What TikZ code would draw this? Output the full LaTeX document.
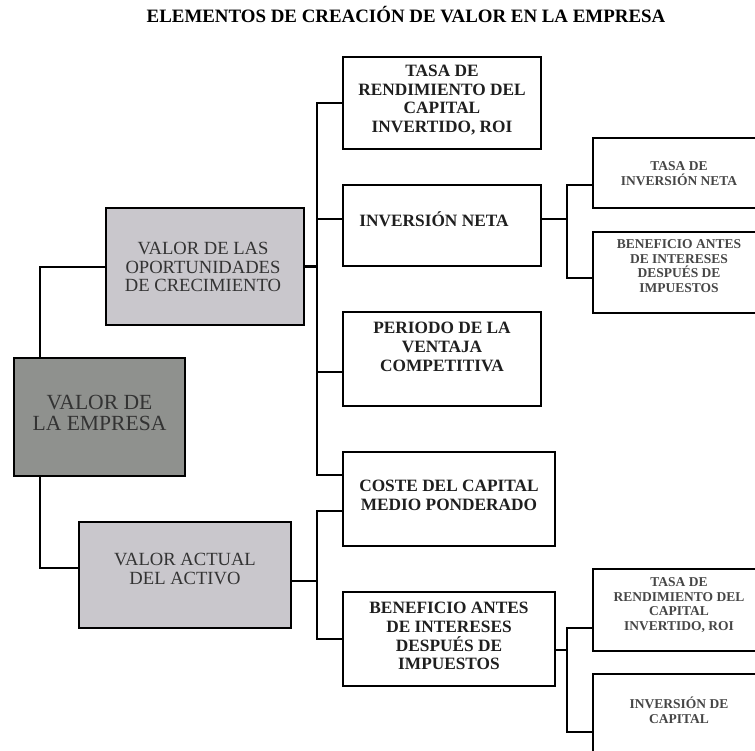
\documentclass[tikz,border=0pt]{standalone}
\usepackage{fontspec}
\setmainfont{Liberation Serif}
\usetikzlibrary{calc}
\definecolor{lightbox}{HTML}{C9C7CC}
\definecolor{darkbox}{HTML}{8F918E}
\definecolor{graytext}{HTML}{333333}
\definecolor{sidegray}{HTML}{464646}
\tikzset{
  box/.style={draw=black, line width=2.8pt, rectangle, inner sep=0pt, fill=white},
  conn/.style={draw=black, line width=2.4pt},
  thinconn/.style={draw=black, line width=2pt},
  midtext/.style={align=center, text=black!88, font=\bfseries\fontsize{17.3}{18.7}\selectfont},
  sidetext/.style={align=center, text=sidegray, font=\bfseries\fontsize{13.5}{14.8}\selectfont},
  graytxt/.style={align=center, text=graytext, font=\fontsize{18.6}{18.4}\selectfont},
}
\begin{document}
\begin{tikzpicture}[x=1pt, y=-1pt]
\useasboundingbox (0,0) rectangle (755,750);
\fill[white] (0,0) rectangle (755,750);
\clip (0,0) rectangle (755,750);

% title
\node[font=\bfseries\fontsize{18.9}{20}\selectfont] (title) at (406,15) {ELEMENTOS DE CREACIÓN DE VALOR EN LA EMPRESA};

% level 0 and level 1 boxes
\node[box, fill=darkbox, minimum width=171pt, minimum height=118pt] (emp) at (99.5,417) {};
\node[align=center, text=black!80, font=\fontsize{21.6}{21.8}\selectfont] (empT) at (99.5,413) {VALOR DE\\LA EMPRESA};

\node[box, fill=lightbox, minimum width=198pt, minimum height=117pt] (op) at (205,266.5) {};
\node[graytxt] (opT) at (203,267) {VALOR DE LAS\\OPORTUNIDADES\\DE CRECIMIENTO};

\node[box, fill=lightbox, minimum width=212pt, minimum height=106pt] (act) at (185,575) {};
\node[graytxt] (actT) at (185,569) {VALOR ACTUAL\\DEL ACTIVO};

% level 2 boxes
\node[box, minimum width=198pt, minimum height=92pt] (roi) at (442,103) {};
\node[midtext] (roiT) at (442,100) {TASA DE\\RENDIMIENTO DEL\\CAPITAL\\INVERTIDO, ROI};

\node[box, minimum width=198pt, minimum height=81pt] (inv) at (442,225.5) {};
\node[midtext] (invT) at (434,219) {INVERSIÓN NETA};

\node[box, minimum width=198pt, minimum height=94pt] (per) at (442,359) {};
\node[midtext] (perT) at (442,347) {PERIODO DE LA\\VENTAJA\\COMPETITIVA};

\node[box, minimum width=212pt, minimum height=94pt] (cos) at (449,499) {};
\node[midtext] (cosT) at (449,495) {COSTE DEL CAPITAL\\MEDIO PONDERADO};

\node[box, minimum width=212pt, minimum height=94pt] (ben) at (449,639) {};
\node[midtext] (benT) at (449,636) {BENEFICIO ANTES\\DE INTERESES\\DESPUÉS DE\\IMPUESTOS};

% level 3 boxes (running past the right edge)
\node[box, minimum width=172pt, minimum height=70pt] (tin) at (679,173) {};
\node[sidetext] (tinT) at (679,174) {TASA DE\\INVERSIÓN NETA};

\node[box, minimum width=172pt, minimum height=81pt] (bai) at (679,272.5) {};
\node[sidetext] (baiT) at (679,266) {BENEFICIO ANTES\\DE INTERESES\\DESPUÉS DE\\IMPUESTOS};

\node[box, minimum width=172pt, minimum height=82pt] (troi) at (679,610) {};
\node[sidetext] (troiT) at (679,605) {TASA DE\\RENDIMIENTO DEL\\CAPITAL\\INVERTIDO, ROI};

\node[box, minimum width=172pt, minimum height=96pt] (ic) at (679,722) {};
\node[sidetext] (icT) at (679,710) {INVERSIÓN DE\\CAPITAL};

% bus lines
\coordinate (busE) at (40,0);
\coordinate (busA) at (317,0);
\coordinate (busB) at (567,0);

% attachment points
\coordinate (actL) at ([yshift=7pt]act.west);
\coordinate (actR) at ([yshift=-6pt]act.east);
\coordinate (invL) at ([yshift=6.5pt]inv.west);
\coordinate (invR) at ([yshift=6.5pt]inv.east);
\coordinate (perL) at ([yshift=-13pt]per.west);
\coordinate (cosA) at ([yshift=24pt]cos.west);
\coordinate (cosB) at ([yshift=-12pt]cos.west);
\coordinate (benR) at ([yshift=-11pt]ben.east);
\coordinate (tinL) at ([yshift=-12pt]tin.west);
\coordinate (baiL) at ([yshift=-5.5pt]bai.west);
\coordinate (troiL) at ([yshift=-18pt]troi.west);
\coordinate (icL) at ([yshift=-10pt]ic.west);

% company value to its two components
\draw[thinconn] (emp.north -| busE) |- (op.west);
\draw[thinconn] (emp.south -| busE) |- (actL);

% growth opportunities branch
\draw[conn] (roi.west) -- (roi.west -| busA) -- (cosA -| busA) -- (cosA);
\draw[conn] (op.east) -- (op.east -| busA);
\draw[conn] (invL -| busA) -- (invL);
\draw[conn] (perL -| busA) -- (perL);

% current asset value branch
\draw[conn] (cosB) -- (cosB -| busA) -- (ben.west -| busA) -- (ben.west);
\draw[conn] (actR) -- (actR -| busA);

% net investment breakdown
\draw[conn] (invR) -- (invR -| busB);
\draw[conn] (tinL) -- (tinL -| busB) -- (baiL -| busB) -- (baiL);

% operating profit breakdown
\draw[conn] (benR) -- (benR -| busB);
\draw[conn] (troiL) -- (troiL -| busB) -- (icL -| busB) -- (icL);
\end{tikzpicture}
\end{document}
